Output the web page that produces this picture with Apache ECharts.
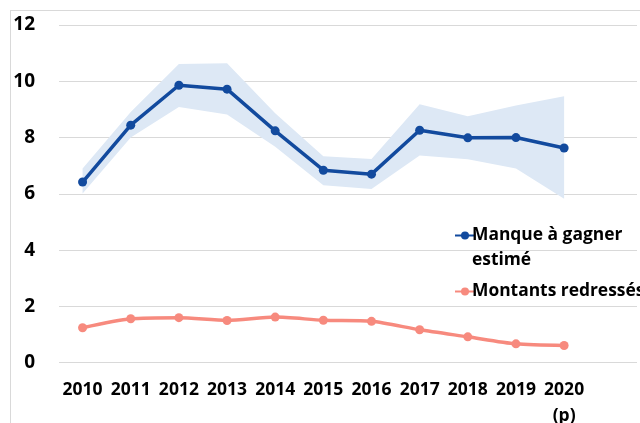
<!DOCTYPE html>
<html>
<head>
<meta charset="utf-8">
<script src="https://cdn.jsdelivr.net/npm/echarts@6/dist/echarts.min.js"></script>
<style>
  html, body { margin: 0; padding: 0; background: #fff; }
  #frame { position: absolute; left: 10px; top: 10px; width: 640px; height: 423px;
           border-left: 1px solid #d9d9d9; border-top: 1px solid #d9d9d9; }
  #chart { position: absolute; left: 0; top: 0; width: 640px; height: 423px; }
</style>
</head>
<body>
<div id="frame"></div>
<div id="chart"></div>
<script>
// years on the x axis
var years = ['2010', '2011', '2012', '2013', '2014', '2015', '2016', '2017', '2018', '2019', '2020\n(p)'];
// Manque a gagner estime (Md EUR)
var manque = [6.42, 8.44, 9.86, 9.72, 8.24, 6.84, 6.70, 8.26, 7.99, 8.00, 7.63];
// fourchette autour de l'estimation
var bandLow = [6.01, 8.00, 9.09, 8.82, 7.67, 6.31, 6.17, 7.36, 7.23, 6.90, 5.83];
var bandHigh = [6.90, 8.91, 10.61, 10.64, 8.86, 7.34, 7.24, 9.18, 8.76, 9.14, 9.47];
// Montants redresses
var redresses = [1.24, 1.56, 1.60, 1.50, 1.62, 1.51, 1.47, 1.17, 0.92, 0.67, 0.61];

var bandWidth = [];
for (var i = 0; i < bandHigh.length; i++) {
    bandWidth.push(+(bandHigh[i] - bandLow[i]).toFixed(2));
}

var font = 'Open Sans';
var chart = echarts.init(document.getElementById('chart'));

var option = {
    animation: false,
    textStyle: { fontFamily: font },
    grid: [
        { left: 59, right: 3, top: 25, bottom: 60.3, outerBoundsMode: 'none' },
        { left: 58.5, width: 529.7, top: 25, bottom: 60.3, outerBoundsMode: 'none' }
    ],
    xAxis: [
        { gridIndex: 0, type: 'value', min: 0, max: 1, show: false },
        {
            gridIndex: 1,
            type: 'category',
            data: years,
            boundaryGap: true,
            axisLine: { show: false },
            axisTick: { show: false },
            axisLabel: {
                interval: 0,
                hideOverlap: false,
                margin: 14,
                color: '#000',
                fontFamily: font,
                fontWeight: 'bold',
                fontSize: 17.5,
                lineHeight: 26
            }
        }
    ],
    yAxis: [
        {
            gridIndex: 0,
            type: 'value',
            min: 0, max: 12, interval: 2,
            axisLine: { show: false },
            axisTick: { show: false },
            axisLabel: {
                margin: 24,
                color: '#000',
                fontFamily: font,
                fontWeight: 'bold',
                fontSize: 19
            },
            splitLine: { lineStyle: { color: '#d9d9d9', width: 1 } }
        },
        {
            gridIndex: 1,
            type: 'value',
            min: 0, max: 12, interval: 2,
            show: false,
            splitLine: { show: false }
        }
    ],
    legend: {
        orient: 'vertical',
        left: 449,
        top: 193,
        itemGap: 6,
        itemWidth: 20,
        itemHeight: 10,
        data: ['Manque à gagner estimé', 'Montants redressés'],
        formatter: function (name) {
            if (name === 'Manque à gagner estimé') return '\nManque à gagner\nestimé';
            return name;
        },
        textStyle: {
            color: '#000',
            fontFamily: font,
            fontWeight: 'bold',
            fontSize: 17.4,
            lineHeight: 25,
            padding: [0, 0, 0, -8]
        }
    },
    series: [
        {
            name: 'bas',
            type: 'line',
            xAxisIndex: 1, yAxisIndex: 1,
            stack: 'band',
            data: bandLow,
            symbol: 'none',
            lineStyle: { opacity: 0 },
            silent: true
        },
        {
            name: 'fourchette',
            type: 'line',
            xAxisIndex: 1, yAxisIndex: 1,
            stack: 'band',
            data: bandWidth,
            symbol: 'none',
            lineStyle: { opacity: 0 },
            areaStyle: { color: '#dde8f5', opacity: 1 },
            silent: true
        },
        {
            name: 'Manque à gagner estimé',
            type: 'line',
            xAxisIndex: 1, yAxisIndex: 1,
            data: manque,
            symbol: 'circle',
            symbolSize: 9,
            color: '#124a9e',
            lineStyle: { width: 3.5, color: '#124a9e' },
            itemStyle: { color: '#124a9e' }
        },
        {
            name: 'Montants redressés',
            type: 'line',
            xAxisIndex: 1, yAxisIndex: 1,
            data: redresses,
            smooth: 0.25,
            symbol: 'circle',
            symbolSize: 9,
            color: '#f78a7e',
            lineStyle: { width: 3.5, color: '#f78a7e' },
            itemStyle: { color: '#f78a7e' }
        }
    ]
};

chart.setOption(option);
</script>
</body>
</html>
